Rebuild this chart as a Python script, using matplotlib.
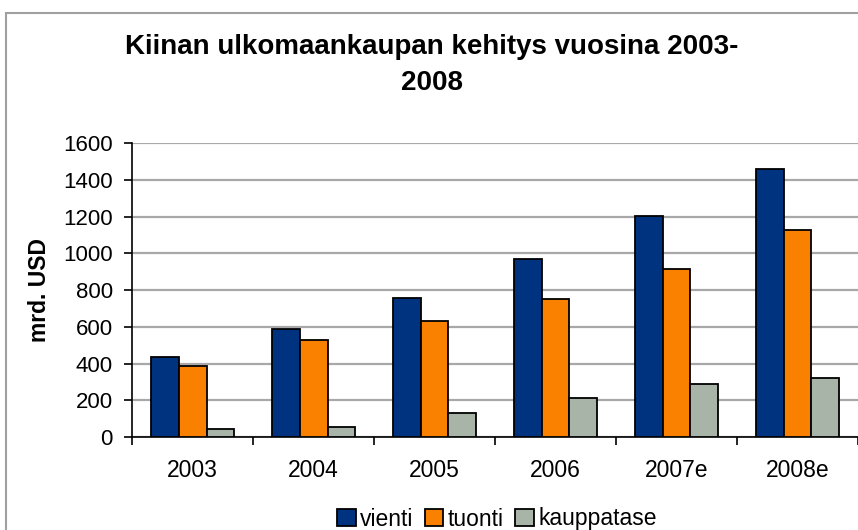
import matplotlib

matplotlib.use("Agg")
import matplotlib.pyplot as plt
import numpy as np
from matplotlib.patches import Rectangle

years = ["2003", "2004", "2005", "2006", "2007e", "2008e"]
vienti = [435, 590, 760, 970, 1205, 1460]
tuonti = [390, 530, 630, 750, 915, 1130]
kauppatase = [45, 55, 130, 215, 290, 325]

series = [("vienti", vienti, "#00337F"),
          ("tuonti", tuonti, "#FA8000"),
          ("kauppatase", kauppatase, "#A9B4A8")]

plt.rcParams["font.family"] = ["Liberation Sans", "DejaVu Sans"]

fig = plt.figure(figsize=(8.58, 5.30), dpi=100)
ax = fig.add_axes([0.154, 0.175, 0.846, 0.555])

# outer chart frame (cut off at right/bottom like the screenshot)
fig.patches.append(Rectangle((6 / 858, -0.1), 1.2, 1 - 13 / 530 + 0.1,
                             transform=fig.transFigure, fill=False,
                             edgecolor="#A0A0A0", linewidth=1.5))

x = np.arange(len(years))
w = 0.23
for i, (name, vals, col) in enumerate(series):
    ax.bar(x + (i - 1) * w, vals, w, color=col, edgecolor="black",
           linewidth=1.3, label=name, zorder=3)

ax.set_xlim(-0.5, len(years) - 0.5)
ax.set_ylim(0, 1600)
ax.set_yticks(np.arange(0, 1601, 200))
ax.yaxis.grid(True, color="#A8A8A8", linewidth=1.6, zorder=0)
ax.set_axisbelow(True)

ax.set_xticks(x)
ax.set_xticklabels(years)
ax.set_xticks(np.arange(-0.5, len(years)), minor=True)
ax.tick_params(axis="x", which="major", length=0, pad=16, labelsize=16.5)
ax.tick_params(axis="x", which="minor", length=6, width=1.2, direction="out")
ax.tick_params(axis="y", length=6, width=1.2, pad=8, labelsize=16)

for s in ("top", "right"):
    ax.spines[s].set_visible(False)
for s in ("left", "bottom"):
    ax.spines[s].set_linewidth(1.2)

fig.text(40 / 858, 1 - 290 / 530, "mrd. USD", rotation=90, fontsize=16.5,
         fontweight="bold", ha="center", va="center")
fig.text(0.503, 1 - 65 / 530, "Kiinan ulkomaankaupan kehitys vuosina 2003-\n2008",
         ha="center", va="center", fontsize=20, fontweight="bold",
         linespacing=1.5)

fig.legend(loc="center", bbox_to_anchor=(497 / 858, 1 - 519 / 530), ncol=3,
           frameon=False, fontsize=16.5, handlelength=0.8, handleheight=0.8,
           handletextpad=0.2, columnspacing=0.5, borderpad=0)

fig.savefig("out.png", dpi=100)
